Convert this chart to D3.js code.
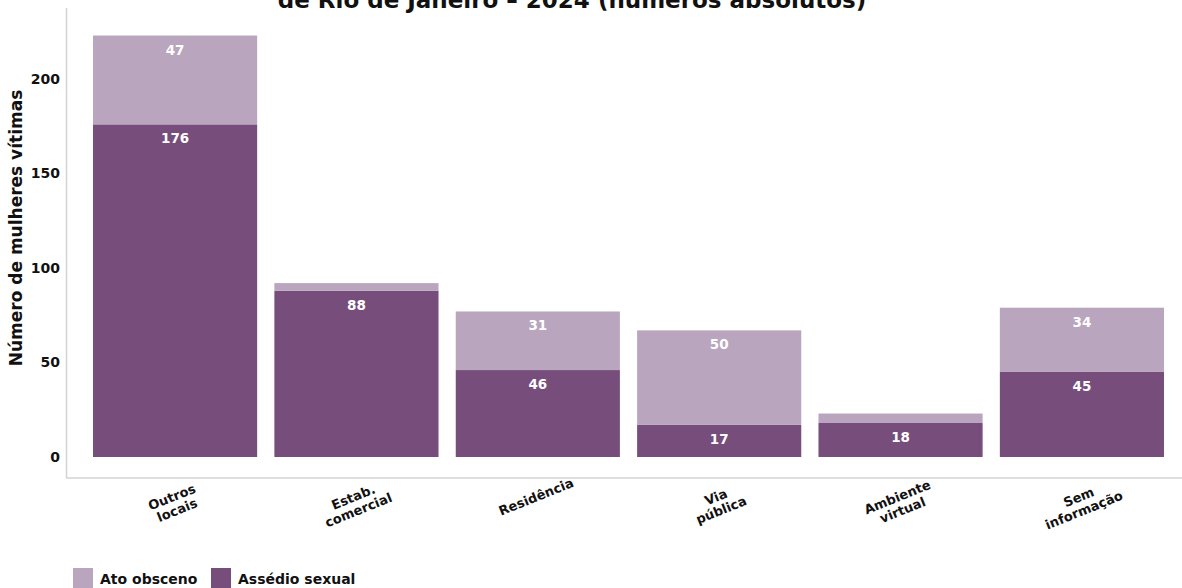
<!DOCTYPE html>
<html><head><meta charset="utf-8">
<script src="https://cdn.jsdelivr.net/npm/d3@7"></script>
<style>
html,body{margin:0;padding:0;background:#fff;}
svg{display:block;font-family:"DejaVu Sans",sans-serif;}
</style></head>
<body><svg id="c" width="1182" height="588"></svg>
<script>
const categories = ["Outros locais","Estab. comercial","Residência","Via pública","Ambiente virtual","Sem informação"];
const categoryLines = [["Outros","locais"],["Estab.","comercial"],["Residência"],["Via","pública"],["Ambiente","virtual"],["Sem","informação"]];
const assedioSexual = [176, 88, 46, 17, 18, 45];
const atoObsceno = [47, 4, 31, 50, 5, 34];
const yTicks = [0, 50, 100, 150, 200];
const seriesNames = ["Assédio sexual", "Ato obsceno"];
const titleText = "de Rio de Janeiro – 2024 (números absolutos)";
const yTitle = "Número de mulheres vítimas";

const colors = {"Assédio sexual":"#774d7c","Ato obsceno":"#b9a5be"};
const svg = d3.select("#c");

const x = d3.scaleBand().domain(categories).range([84.4, 1172.6]).paddingInner(0.095).paddingOuter(0.0475);
const y = d3.scaleLinear().domain([0, 200]).range([457, 79]);

// title (partially clipped at top, as in the reference)
svg.append("text").attr("x", 572).attr("y", 8).attr("text-anchor","middle")
  .attr("font-size", 23).attr("font-weight", 700).attr("fill","#111").text(titleText);

// axes lines
svg.append("line").attr("x1",66.5).attr("x2",66.5).attr("y1",8).attr("y2",478).attr("stroke","#d3d3d3").attr("stroke-width",1.5);
svg.append("line").attr("x1",66).attr("x2",1182).attr("y1",478).attr("y2",478).attr("stroke","#d3d3d3").attr("stroke-width",1.5);

// y ticks
const yAxis = d3.axisLeft(y).tickValues(yTicks).tickSize(0).tickPadding(0);
const ga = svg.append("g").attr("transform","translate(60,0)").call(yAxis);
ga.select(".domain").remove();
ga.selectAll("text").attr("font-size",14).attr("font-weight",700).attr("fill","#111").attr("font-family","'DejaVu Sans',sans-serif");

// y title
svg.append("text").attr("transform","translate(22,228) rotate(-90)").attr("text-anchor","middle")
  .attr("font-size",17).attr("font-weight",700).attr("fill","#111").text(yTitle);

// stacked data
const rows = categories.map((c,i)=>({cat:c, "Assédio sexual":assedioSexual[i], "Ato obsceno":atoObsceno[i]}));
const stack = d3.stack().keys(seriesNames)(rows);

const layers = svg.selectAll("g.layer").data(stack).join("g").attr("class","layer").attr("fill", d=>colors[d.key]);
layers.selectAll("rect").data(d=>d).join("rect")
  .attr("x", d=>x(d.data.cat)).attr("width", x.bandwidth())
  .attr("y", d=>y(d[1])).attr("height", d=>y(d[0])-y(d[1]));

layers.selectAll("text").data(d=>d.filter(s=>s[1]-s[0]>=10)).join("text")
  .attr("x", d=>x(d.data.cat)+x.bandwidth()/2).attr("y", d=>y(d[1])+19)
  .attr("text-anchor","middle").attr("fill","#fff").attr("font-size",13.5).attr("font-weight",700)
  .text(d=>d[1]-d[0]);

// x labels
categories.forEach((c,i)=>{
  const cx = x(c)+x.bandwidth()/2;
  const lines = categoryLines[i];
  const t = svg.append("text").attr("transform",`translate(${cx},${lines.length>1?505:501}) rotate(-22)`)
    .attr("text-anchor","middle").attr("font-size",13).attr("font-weight",700).attr("fill","#111");
  lines.forEach((l,j)=>{
    t.append("tspan").attr("x",0).attr("dy", j===0 ? (lines.length>1?-4:0) : 14).text(l);
  });
});

// legend
const leg = [["Ato obsceno",73],["Assédio sexual",211]];
leg.forEach(([k,lx])=>{
  svg.append("rect").attr("x",lx).attr("y",568).attr("width",20).attr("height",20).attr("fill",colors[k]);
  svg.append("text").attr("x",lx+27).attr("y",584).attr("font-size",14).attr("font-weight",700).attr("fill","#111").text(k);
});
</script></body></html>
